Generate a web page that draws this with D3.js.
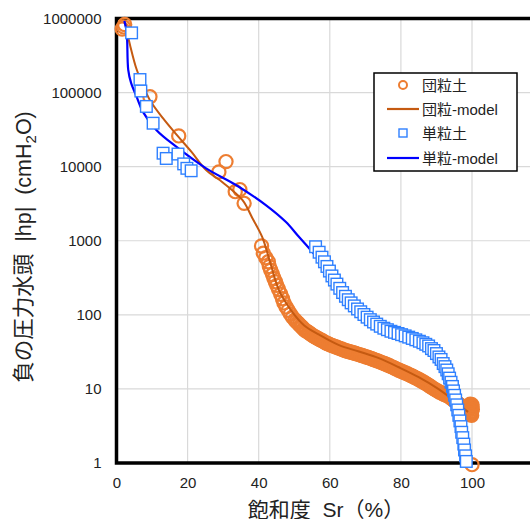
<!DOCTYPE html>
<html>
<head>
<meta charset="utf-8">
<script src="https://cdn.jsdelivr.net/npm/d3@7/dist/d3.min.js"></script>
<style>
  body { margin: 0; background: #fff; }
  svg { display: block; }
  text { font-family: "Liberation Sans", Arial, "Noto Sans CJK JP", sans-serif; fill: #222; white-space: pre; }
</style>
</head>
<body>
<svg id="chart" width="530" height="519"></svg>
<script>
// 団粒土 measured points [Sr %, |hp| cmH2O]
var danryuObs = [
  [1.6, 720000], [2.3, 830000], [2.0, 770000],
  [9.4, 88000], [17.5, 26000], [30.8, 11700], [28.8, 8500],
  [33.4, 4600], [34.7, 4900], [35.9, 3200],
  [40.8, 850], [41.3, 680], [42.0, 590], [42.7, 520], [43.0, 450], [43.4, 400],
  [43.9, 350], [44.3, 310], [44.7, 280], [45.1, 250], [45.6, 220], [46.2, 190],
  [46.7, 165], [47.1, 145], [47.7, 128], [48.3, 115], [48.9, 103], [49.5, 93],
  [50.2, 85], [50.6, 81], [51.0, 78], [51.4, 74], [51.8, 71], [52.2, 68], [52.6, 65],
  [53.0, 62], [53.5, 60], [54.0, 58], [54.4, 56], [54.9, 54], [55.3, 52], [55.8, 50.5],
  [56.3, 49], [56.8, 47.5], [57.3, 46], [57.8, 45], [58.3, 43.5], [58.8, 42], [59.3, 41],
  [59.8, 40], [60.3, 39], [60.8, 38.2], [61.3, 37.5], [61.8, 36.8], [62.3, 36],
  [62.8, 35.2], [63.3, 34.5], [63.8, 33.8], [64.3, 33], [64.8, 32.5], [65.3, 32],
  [65.8, 31.5], [66.3, 31], [66.8, 30.5], [67.3, 30], [67.8, 29.5], [68.3, 29],
  [68.8, 28.5], [69.3, 28], [69.8, 27.5], [70.3, 27], [70.8, 26.5], [71.3, 26],
  [71.8, 25.5], [72.3, 25], [72.8, 24.5], [73.3, 24], [73.8, 23.5], [74.3, 23],
  [74.8, 22.5], [75.3, 22], [75.8, 21.5], [76.3, 21], [76.8, 20.5], [77.3, 20],
  [77.8, 19.5], [78.3, 19], [78.8, 18.5], [79.3, 18], [79.8, 17.6], [80.3, 17.2],
  [80.8, 16.8], [81.3, 16.4], [81.8, 16], [82.3, 15.6], [82.8, 15.2], [83.3, 14.8],
  [83.8, 14.4], [84.3, 14], [84.8, 13.6], [85.3, 13.2], [85.8, 12.8], [86.3, 12.4],
  [86.8, 12], [87.3, 11.6], [87.8, 11.2], [88.3, 10.8], [88.8, 10.4], [89.3, 10],
  [89.8, 9.7], [90.3, 9.4], [90.8, 9.1], [91.3, 8.9], [91.8, 8.6], [92.3, 8.4],
  [92.8, 8.2], [93.3, 8.0], [93.8, 7.7], [94.3, 7.4], [94.8, 7.1], [95.3, 6.8],
  [95.8, 6.5], [96.3, 6.2], [96.7, 6.0], [97.0, 5.8], [97.3, 5.6], [97.6, 5.5],
  [97.9, 5.4], [98.2, 5.3], [98.5, 5.2], [98.7, 5.2], [99.0, 5.3], [99.2, 5.4],
  [99.4, 5.8], [99.5, 6.2], [99.6, 6.0], [99.7, 5.5], [99.8, 4.8], [99.6, 4.5],
  [99.9, 5.0], [100.0, 5.7], [100.1, 5.3], [99.3, 4.7], [99.9, 4.4], [100.0, 6.1],
  [100.0, 0.95]
];

// 団粒-model curve
var danryuModel = [
  [2.4, 870000], [3.8, 440000], [5.7, 203000], [8.0, 109000], [9.4, 79000],
  [13.0, 45500], [17.2, 26000], [21.1, 15800], [25.2, 9000], [29.8, 6170],
  [35.4, 3550], [38.2, 2030], [41.0, 1120], [43.2, 515], [45.7, 215],
  [49.1, 115], [52.8, 72], [57.0, 54], [62.6, 39], [68.2, 32], [73.8, 26],
  [79.4, 19.6], [85.0, 14.4], [90.5, 10], [94.7, 7.1], [97.5, 5.5], [98.9, 4.9]
];

// 単粒土 measured points
var tanryuObs = [
  [4.25, 640000], [6.6, 150000], [6.85, 105000], [8.4, 65000], [10.3, 38600],
  [13.1, 15200], [14.0, 12900], [17.3, 14800], [18.9, 10900], [19.8, 9500], [21.0, 8800],
  [56.0, 830], [57.0, 700], [57.8, 600], [58.5, 520], [59.2, 450], [59.9, 390],
  [60.6, 335], [61.3, 295], [62.0, 260], [62.8, 228], [63.6, 200], [64.4, 178],
  [65.2, 160], [66.0, 145], [66.9, 132], [67.8, 120], [68.7, 110], [69.6, 101],
  [70.5, 93], [71.4, 86], [72.3, 80], [73.2, 75], [74.2, 70], [75.2, 66],
  [76.2, 63], [77.2, 60], [78.2, 58], [79.2, 56], [80.2, 54], [81.2, 52],
  [82.2, 50], [83.2, 48], [84.2, 46], [85.2, 44], [86.2, 42], [87.0, 40],
  [87.8, 38], [88.6, 35], [89.3, 33], [90.0, 30], [90.7, 27], [91.3, 25],
  [91.9, 22], [92.4, 20], [92.9, 18], [93.3, 16], [93.7, 14], [94.1, 12.3],
  [94.5, 10.8], [94.8, 9.4], [95.1, 8.2], [95.4, 7.1], [95.7, 6.1], [96.0, 5.2],
  [96.3, 4.4], [96.6, 3.7], [96.9, 3.1], [97.1, 2.6], [97.4, 2.2], [97.7, 1.8],
  [97.9, 1.5], [98.2, 1.25], [98.4, 1.05]
];

// 単粒-model curve
var tanryuModel = [
  [2.2, 930000], [2.85, 667000], [3.3, 203000], [4.1, 135000], [5.65, 88300],
  [7.4, 55400], [11.2, 31300], [16.8, 18600], [25.2, 9500], [33.6, 5660],
  [42.0, 3030], [47.6, 1800], [51.3, 1130], [54.6, 750], [56.9, 550],
  [60.6, 295], [67.2, 129], [72.8, 77], [79.3, 56], [84.9, 45], [88.6, 36],
  [91.4, 27], [93.3, 18], [94.7, 10.6], [95.6, 6.3], [96.6, 3.8], [97.0, 2.5],
  [97.8, 1.66], [98.3, 1.1]
];

var xTicks = [0, 20, 40, 60, 80, 100];
var yTicks = [1, 10, 100, 1000, 10000, 100000, 1000000];
var legendLabels = ['団粒土', '団粒-model', '単粒土', '単粒-model'];

var orange = '#ED7D31', brown = '#C55A11', blue = '#0000FF', sqBlue = '#2F80FF';

var svg = d3.select('#chart');
var plotLeft = 116.5, plotTop = 18.5, plotBottom = 463;

var x = d3.scaleLinear().domain([0, 120]).range([plotLeft, plotLeft + 3.555 * 120]);
var y = d3.scaleLog().domain([1, 1e6]).range([plotBottom, plotTop]);

// grid
var grid = svg.append('g');
grid.selectAll('.gx').data(xTicks.slice(1).concat([120])).enter().append('line')
    .attr('x1', function(d) { return x(d); }).attr('x2', function(d) { return x(d); })
    .attr('y1', plotTop).attr('y2', plotBottom)
    .attr('stroke', '#d9d9d9').attr('stroke-width', 1.2);
grid.selectAll('.gy').data(yTicks.slice(1, -1)).enter().append('line')
    .attr('x1', plotLeft).attr('x2', 540)
    .attr('y1', function(d) { return y(d); }).attr('y2', function(d) { return y(d); })
    .attr('stroke', '#d9d9d9').attr('stroke-width', 1.2);

// axes
var yAxis = svg.append('g').attr('transform', 'translate(' + plotLeft + ',0)')
    .call(d3.axisLeft(y).tickValues(yTicks).tickSize(0).tickPadding(15)
        .tickFormat(function(d) { return String(d); }));
var xAxis = svg.append('g').attr('transform', 'translate(0,' + plotBottom + ')')
    .call(d3.axisBottom(x).tickValues(xTicks).tickSize(0).tickPadding(14));
[yAxis, xAxis].forEach(function(a) {
    a.select('.domain').remove();
    a.selectAll('text').style('font-size', '15px').attr('fill', '#222');
});

// frame
svg.append('path')
    .attr('d', 'M540,' + plotTop + 'H' + plotLeft + 'V' + plotBottom + 'H540')
    .attr('fill', 'none').attr('stroke', '#000').attr('stroke-width', 3.5);

var line = d3.line()
    .x(function(d) { return x(d[0]); })
    .y(function(d) { return y(d[1]); })
    .curve(d3.curveCatmullRom);

// 団粒土 circles
svg.append('g').selectAll('circle').data(danryuObs).enter().append('circle')
    .attr('cx', function(d) { return x(d[0]); })
    .attr('cy', function(d) { return y(d[1]); })
    .attr('r', 6.6)
    .attr('fill', 'none').attr('stroke', orange).attr('stroke-width', 2.2);

svg.append('path').datum(danryuModel)
    .attr('d', line)
    .attr('fill', 'none').attr('stroke', brown).attr('stroke-width', 2);

svg.append('path').datum(tanryuModel)
    .attr('d', line)
    .attr('fill', 'none').attr('stroke', blue).attr('stroke-width', 2.2);

// 単粒土 squares
svg.append('g').selectAll('rect').data(tanryuObs).enter().append('rect')
    .attr('x', function(d) { return x(d[0]) - 5.8; })
    .attr('y', function(d) { return y(d[1]) - 5.8; })
    .attr('width', 11.6).attr('height', 11.6)
    .attr('fill', '#fff').attr('stroke', sqBlue).attr('stroke-width', 1.4);

// axis titles
svg.append('text')
    .attr('x', 326).attr('y', 517)
    .attr('text-anchor', 'middle')
    .style('font-size', '21px')
    .text('飽和度  Sr（%）');

var yt = svg.append('text')
    .attr('transform', 'translate(31,247) rotate(-90)')
    .attr('text-anchor', 'middle')
    .style('font-size', '21.5px');
yt.append('tspan').text('負の圧力水頭  |hp|  (cmH');
yt.append('tspan').attr('dy', 5).style('font-size', '15px').text('2');
yt.append('tspan').attr('dy', -5).text('O)');

// legend
var lg = svg.append('g');
lg.append('rect').attr('x', 374).attr('y', 73).attr('width', 143).attr('height', 98)
    .attr('fill', '#fff').attr('stroke', '#000').attr('stroke-width', 1.5);
var rowY = [85, 109, 133, 158];
legendLabels.forEach(function(label, i) {
    var ry = rowY[i];
    if (i === 0) {
        lg.append('circle').attr('cx', 403).attr('cy', ry).attr('r', 4)
            .attr('fill', 'none').attr('stroke', orange).attr('stroke-width', 2);
    } else if (i === 2) {
        lg.append('rect').attr('x', 399).attr('y', ry - 4).attr('width', 8).attr('height', 8)
            .attr('fill', '#fff').attr('stroke', sqBlue).attr('stroke-width', 1.4);
    } else {
        lg.append('line').attr('x1', 387).attr('x2', 419).attr('y1', ry).attr('y2', ry)
            .attr('stroke', i === 1 ? brown : blue).attr('stroke-width', 2.2);
    }
    lg.append('text').attr('x', 422).attr('y', ry + 5.5)
        .style('font-size', '15px').text(label);
});
</script>
</body>
</html>
